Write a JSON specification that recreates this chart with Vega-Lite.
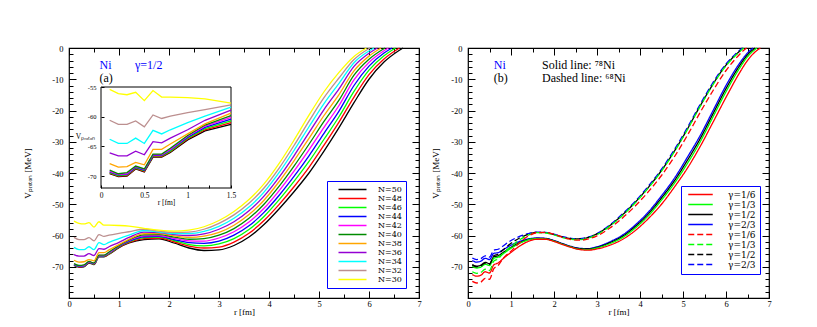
{
"$schema": "https://vega.github.io/schema/vega-lite/v6.json",
"background": "white",
"padding": {"left": 23, "top": 43, "right": 5, "bottom": 5},
"bounds": "flush",
"spacing": 49,
"config": {
 "view": {"stroke": "black", "strokeWidth": 1.2},
 "font": "Liberation Serif",
 "axis": {"domain": false, "grid": false, "labelFont": "Liberation Serif", "titleFont": "Liberation Serif", "labelFontSize": 8.5, "titleFontSize": 9, "titleFontWeight": "normal", "labelColor": "black", "titleColor": "black", "tickColor": "black", "tickWidth": 1, "labelFlush": false, "labelOverlap": false, "labelBound": false},
 "legend": {"labelFont": "DejaVu Serif", "labelColor": "black", "symbolStrokeWidth": 1.5, "rowPadding": -1, "padding": 4, "strokeColor": "#0000ff", "fillColor": "white"}
},
"resolve": {"scale": {"color": "independent", "strokeDash": "independent"}},
"datasets": {
"left": [
{"N":50,"r":0.1,"V":-69.6},{"N":50,"r":0.2,"V":-70.1},{"N":50,"r":0.3,"V":-70.0},{"N":50,"r":0.4,"V":-68.8},{"N":50,"r":0.5,"V":-69.3},{"N":50,"r":0.6,"V":-66.8},{"N":50,"r":0.7,"V":-66.8},{"N":50,"r":0.8,"V":-66.0},{"N":50,"r":1.0,"V":-63.9},{"N":50,"r":1.2,"V":-62.4},{"N":50,"r":1.5,"V":-61.3},{"N":50,"r":1.8,"V":-61.1},{"N":50,"r":2.1,"V":-62.4},{"N":50,"r":2.4,"V":-64.0},{"N":50,"r":2.7,"V":-64.8},{"N":50,"r":3.0,"V":-64.6},{"N":50,"r":3.3,"V":-63.2},{"N":50,"r":3.6,"V":-60.5},{"N":50,"r":3.9,"V":-56.5},{"N":50,"r":4.2,"V":-51.5},{"N":50,"r":4.5,"V":-46.0},{"N":50,"r":4.8,"V":-40.0},{"N":50,"r":5.1,"V":-33.0},{"N":50,"r":5.4,"V":-25.5},{"N":50,"r":5.7,"V":-17.5},{"N":50,"r":6.0,"V":-10.0},{"N":50,"r":6.3,"V":-4.5},{"N":50,"r":6.6,"V":-0.8},{"N":50,"r":6.68,"V":0},
{"N":48,"r":0.1,"V":-69.5},{"N":48,"r":0.2,"V":-70.0},{"N":48,"r":0.3,"V":-69.9},{"N":48,"r":0.4,"V":-68.7},{"N":48,"r":0.5,"V":-69.2},{"N":48,"r":0.6,"V":-66.7},{"N":48,"r":0.7,"V":-66.7},{"N":48,"r":0.8,"V":-65.9},{"N":48,"r":1.0,"V":-63.75},{"N":48,"r":1.2,"V":-62.2},{"N":48,"r":1.5,"V":-61.0},{"N":48,"r":1.8,"V":-60.8},{"N":48,"r":2.1,"V":-62.0},{"N":48,"r":2.4,"V":-63.4},{"N":48,"r":2.7,"V":-64.0},{"N":48,"r":3.0,"V":-63.7},{"N":48,"r":3.3,"V":-62.1},{"N":48,"r":3.6,"V":-59.3},{"N":48,"r":3.9,"V":-55.2},{"N":48,"r":4.2,"V":-50.1},{"N":48,"r":4.5,"V":-44.4},{"N":48,"r":4.8,"V":-38.2},{"N":48,"r":5.1,"V":-31.1},{"N":48,"r":5.4,"V":-23.7},{"N":48,"r":5.7,"V":-15.7},{"N":48,"r":6.0,"V":-8.5},{"N":48,"r":6.3,"V":-3.5},{"N":48,"r":6.61,"V":0},
{"N":46,"r":0.1,"V":-69.4},{"N":46,"r":0.2,"V":-69.9},{"N":46,"r":0.3,"V":-69.8},{"N":46,"r":0.4,"V":-68.6},{"N":46,"r":0.5,"V":-69.1},{"N":46,"r":0.6,"V":-66.6},{"N":46,"r":0.7,"V":-66.6},{"N":46,"r":0.8,"V":-65.8},{"N":46,"r":1.0,"V":-63.6},{"N":46,"r":1.2,"V":-62.0},{"N":46,"r":1.5,"V":-60.7},{"N":46,"r":1.8,"V":-60.5},{"N":46,"r":2.1,"V":-61.6},{"N":46,"r":2.4,"V":-62.9},{"N":46,"r":2.7,"V":-63.3},{"N":46,"r":3.0,"V":-62.7},{"N":46,"r":3.3,"V":-61.0},{"N":46,"r":3.6,"V":-58.1},{"N":46,"r":3.9,"V":-53.9},{"N":46,"r":4.2,"V":-48.6},{"N":46,"r":4.5,"V":-42.7},{"N":46,"r":4.8,"V":-36.3},{"N":46,"r":5.1,"V":-29.2},{"N":46,"r":5.4,"V":-22.0},{"N":46,"r":5.7,"V":-13.9},{"N":46,"r":6.0,"V":-7.1},{"N":46,"r":6.3,"V":-2.5},{"N":46,"r":6.53,"V":0},
{"N":44,"r":0.1,"V":-69.3},{"N":44,"r":0.2,"V":-69.8},{"N":44,"r":0.3,"V":-69.7},{"N":44,"r":0.4,"V":-68.5},{"N":44,"r":0.5,"V":-69.0},{"N":44,"r":0.6,"V":-66.5},{"N":44,"r":0.7,"V":-66.5},{"N":44,"r":0.8,"V":-65.6},{"N":44,"r":1.0,"V":-63.45},{"N":44,"r":1.2,"V":-61.8},{"N":44,"r":1.5,"V":-60.4},{"N":44,"r":1.8,"V":-60.3},{"N":44,"r":2.1,"V":-61.3},{"N":44,"r":2.4,"V":-62.3},{"N":44,"r":2.7,"V":-62.5},{"N":44,"r":3.0,"V":-61.8},{"N":44,"r":3.3,"V":-59.9},{"N":44,"r":3.6,"V":-56.9},{"N":44,"r":3.9,"V":-52.6},{"N":44,"r":4.2,"V":-47.2},{"N":44,"r":4.5,"V":-41.1},{"N":44,"r":4.8,"V":-34.5},{"N":44,"r":5.1,"V":-27.3},{"N":44,"r":5.4,"V":-20.2},{"N":44,"r":5.7,"V":-12.0},{"N":44,"r":6.0,"V":-5.8},{"N":44,"r":6.3,"V":-1.6},{"N":44,"r":6.46,"V":0},
{"N":42,"r":0.1,"V":-69.2},{"N":42,"r":0.2,"V":-69.7},{"N":42,"r":0.3,"V":-69.6},{"N":42,"r":0.4,"V":-68.4},{"N":42,"r":0.5,"V":-68.9},{"N":42,"r":0.6,"V":-66.4},{"N":42,"r":0.7,"V":-66.4},{"N":42,"r":0.8,"V":-65.5},{"N":42,"r":1.0,"V":-63.3},{"N":42,"r":1.2,"V":-61.6},{"N":42,"r":1.5,"V":-60.1},{"N":42,"r":1.8,"V":-60.0},{"N":42,"r":2.1,"V":-60.9},{"N":42,"r":2.4,"V":-61.7},{"N":42,"r":2.7,"V":-61.8},{"N":42,"r":3.0,"V":-60.8},{"N":42,"r":3.3,"V":-58.8},{"N":42,"r":3.6,"V":-55.7},{"N":42,"r":3.9,"V":-51.3},{"N":42,"r":4.2,"V":-45.7},{"N":42,"r":4.5,"V":-39.4},{"N":42,"r":4.8,"V":-32.6},{"N":42,"r":5.1,"V":-25.4},{"N":42,"r":5.4,"V":-18.4},{"N":42,"r":5.7,"V":-10.2},{"N":42,"r":6.0,"V":-4.6},{"N":42,"r":6.3,"V":-0.9},{"N":42,"r":6.39,"V":0},
{"N":40,"r":0.1,"V":-69.0},{"N":40,"r":0.2,"V":-69.6},{"N":40,"r":0.3,"V":-69.4},{"N":40,"r":0.4,"V":-68.3},{"N":40,"r":0.5,"V":-68.8},{"N":40,"r":0.6,"V":-66.3},{"N":40,"r":0.7,"V":-66.3},{"N":40,"r":0.8,"V":-65.3},{"N":40,"r":1.0,"V":-63.15},{"N":40,"r":1.2,"V":-61.4},{"N":40,"r":1.5,"V":-59.8},{"N":40,"r":1.8,"V":-59.7},{"N":40,"r":2.1,"V":-60.5},{"N":40,"r":2.4,"V":-61.2},{"N":40,"r":2.7,"V":-61.0},{"N":40,"r":3.0,"V":-59.9},{"N":40,"r":3.3,"V":-57.8},{"N":40,"r":3.6,"V":-54.5},{"N":40,"r":3.9,"V":-50.0},{"N":40,"r":4.2,"V":-44.3},{"N":40,"r":4.5,"V":-37.8},{"N":40,"r":4.8,"V":-30.8},{"N":40,"r":5.1,"V":-23.5},{"N":40,"r":5.4,"V":-16.7},{"N":40,"r":5.7,"V":-8.7},{"N":40,"r":6.0,"V":-3.6},{"N":40,"r":6.32,"V":0},
{"N":38,"r":0.1,"V":-67.9},{"N":38,"r":0.2,"V":-68.5},{"N":38,"r":0.3,"V":-68.4},{"N":38,"r":0.4,"V":-67.7},{"N":38,"r":0.5,"V":-68.1},{"N":38,"r":0.6,"V":-65.5},{"N":38,"r":0.7,"V":-65.5},{"N":38,"r":0.8,"V":-64.6},{"N":38,"r":1.0,"V":-62.9},{"N":38,"r":1.2,"V":-61.2},{"N":38,"r":1.5,"V":-59.4},{"N":38,"r":1.8,"V":-59.4},{"N":38,"r":2.1,"V":-60.1},{"N":38,"r":2.4,"V":-60.6},{"N":38,"r":2.7,"V":-60.2},{"N":38,"r":3.0,"V":-59.0},{"N":38,"r":3.3,"V":-56.7},{"N":38,"r":3.6,"V":-53.3},{"N":38,"r":3.9,"V":-48.7},{"N":38,"r":4.2,"V":-42.8},{"N":38,"r":4.5,"V":-36.1},{"N":38,"r":4.8,"V":-28.9},{"N":38,"r":5.1,"V":-21.6},{"N":38,"r":5.4,"V":-14.9},{"N":38,"r":5.7,"V":-7.3},{"N":38,"r":6.0,"V":-2.6},{"N":38,"r":6.24,"V":0},
{"N":36,"r":0.1,"V":-66.1},{"N":36,"r":0.2,"V":-66.6},{"N":36,"r":0.3,"V":-66.6},{"N":36,"r":0.4,"V":-65.8},{"N":36,"r":0.5,"V":-66.4},{"N":36,"r":0.6,"V":-64.2},{"N":36,"r":0.7,"V":-64.4},{"N":36,"r":0.8,"V":-63.6},{"N":36,"r":1.0,"V":-62.2},{"N":36,"r":1.2,"V":-60.6},{"N":36,"r":1.5,"V":-58.9},{"N":36,"r":1.8,"V":-59.1},{"N":36,"r":2.1,"V":-59.7},{"N":36,"r":2.4,"V":-60.0},{"N":36,"r":2.7,"V":-59.5},{"N":36,"r":3.0,"V":-58.0},{"N":36,"r":3.3,"V":-55.6},{"N":36,"r":3.6,"V":-52.1},{"N":36,"r":3.9,"V":-47.4},{"N":36,"r":4.2,"V":-41.4},{"N":36,"r":4.5,"V":-34.5},{"N":36,"r":4.8,"V":-27.1},{"N":36,"r":5.1,"V":-19.7},{"N":36,"r":5.4,"V":-13.1},{"N":36,"r":5.7,"V":-5.9},{"N":36,"r":6.0,"V":-1.7},{"N":36,"r":6.17,"V":0},
{"N":34,"r":0.1,"V":-63.8},{"N":34,"r":0.2,"V":-64.5},{"N":34,"r":0.3,"V":-64.5},{"N":34,"r":0.4,"V":-63.6},{"N":34,"r":0.5,"V":-64.5},{"N":34,"r":0.6,"V":-62.3},{"N":34,"r":0.7,"V":-62.9},{"N":34,"r":0.8,"V":-62.2},{"N":34,"r":1.0,"V":-61.0},{"N":34,"r":1.2,"V":-59.9},{"N":34,"r":1.5,"V":-58.4},{"N":34,"r":1.8,"V":-58.9},{"N":34,"r":2.1,"V":-59.4},{"N":34,"r":2.4,"V":-59.4},{"N":34,"r":2.7,"V":-58.7},{"N":34,"r":3.0,"V":-57.1},{"N":34,"r":3.3,"V":-54.5},{"N":34,"r":3.6,"V":-50.9},{"N":34,"r":3.9,"V":-46.1},{"N":34,"r":4.2,"V":-39.9},{"N":34,"r":4.5,"V":-32.8},{"N":34,"r":4.8,"V":-25.2},{"N":34,"r":5.1,"V":-17.8},{"N":34,"r":5.4,"V":-11.3},{"N":34,"r":5.7,"V":-4.7},{"N":34,"r":6.0,"V":-0.95},{"N":34,"r":6.1,"V":0},
{"N":32,"r":0.1,"V":-60.6},{"N":32,"r":0.2,"V":-61.3},{"N":32,"r":0.3,"V":-61.3},{"N":32,"r":0.4,"V":-60.7},{"N":32,"r":0.5,"V":-61.7},{"N":32,"r":0.6,"V":-59.7},{"N":32,"r":0.7,"V":-60.3},{"N":32,"r":0.8,"V":-59.9},{"N":32,"r":1.0,"V":-59.3},{"N":32,"r":1.2,"V":-58.8},{"N":32,"r":1.5,"V":-58.0},{"N":32,"r":1.8,"V":-58.6},{"N":32,"r":2.1,"V":-59.0},{"N":32,"r":2.4,"V":-58.9},{"N":32,"r":2.7,"V":-58.0},{"N":32,"r":3.0,"V":-56.1},{"N":32,"r":3.3,"V":-53.4},{"N":32,"r":3.6,"V":-49.7},{"N":32,"r":3.9,"V":-44.8},{"N":32,"r":4.2,"V":-38.5},{"N":32,"r":4.5,"V":-31.2},{"N":32,"r":4.8,"V":-23.4},{"N":32,"r":5.1,"V":-15.9},{"N":32,"r":5.4,"V":-9.6},{"N":32,"r":5.7,"V":-3.7},{"N":32,"r":6.02,"V":0},
{"N":30,"r":0.1,"V":-55.4},{"N":30,"r":0.2,"V":-56.1},{"N":30,"r":0.3,"V":-56.3},{"N":30,"r":0.4,"V":-55.9},{"N":30,"r":0.5,"V":-57.3},{"N":30,"r":0.6,"V":-55.6},{"N":30,"r":0.7,"V":-56.7},{"N":30,"r":0.8,"V":-56.7},{"N":30,"r":1.0,"V":-56.8},{"N":30,"r":1.2,"V":-57.0},{"N":30,"r":1.5,"V":-57.7},{"N":30,"r":1.8,"V":-58.3},{"N":30,"r":2.1,"V":-58.6},{"N":30,"r":2.4,"V":-58.3},{"N":30,"r":2.7,"V":-57.2},{"N":30,"r":3.0,"V":-55.2},{"N":30,"r":3.3,"V":-52.3},{"N":30,"r":3.6,"V":-48.5},{"N":30,"r":3.9,"V":-43.5},{"N":30,"r":4.2,"V":-37.0},{"N":30,"r":4.5,"V":-29.5},{"N":30,"r":4.8,"V":-21.5},{"N":30,"r":5.1,"V":-14.0},{"N":30,"r":5.4,"V":-7.8},{"N":30,"r":5.7,"V":-2.7},{"N":30,"r":5.95,"V":0}
],
"right": [
{"curve":"78Ni γ=2/3","r":0.1,"V":-68.0},{"curve":"78Ni γ=2/3","r":0.2,"V":-68.5},{"curve":"78Ni γ=2/3","r":0.3,"V":-68.2},{"curve":"78Ni γ=2/3","r":0.4,"V":-67.3},{"curve":"78Ni γ=2/3","r":0.5,"V":-67.7},{"curve":"78Ni γ=2/3","r":0.6,"V":-65.7},{"curve":"78Ni γ=2/3","r":0.7,"V":-65.5},{"curve":"78Ni γ=2/3","r":0.8,"V":-64.7},{"curve":"78Ni γ=2/3","r":1.0,"V":-63.1},{"curve":"78Ni γ=2/3","r":1.2,"V":-61.9},{"curve":"78Ni γ=2/3","r":1.4,"V":-61.1},{"curve":"78Ni γ=2/3","r":1.6,"V":-60.8},{"curve":"78Ni γ=2/3","r":1.8,"V":-60.9},{"curve":"78Ni γ=2/3","r":2.0,"V":-61.6},{"curve":"78Ni γ=2/3","r":2.2,"V":-62.6},{"curve":"78Ni γ=2/3","r":2.4,"V":-63.5},{"curve":"78Ni γ=2/3","r":2.6,"V":-64.1},{"curve":"78Ni γ=2/3","r":2.8,"V":-64.2},{"curve":"78Ni γ=2/3","r":3.0,"V":-63.6},{"curve":"78Ni γ=2/3","r":3.3,"V":-62.0},{"curve":"78Ni γ=2/3","r":3.6,"V":-59.8},{"curve":"78Ni γ=2/3","r":3.9,"V":-56.5},{"curve":"78Ni γ=2/3","r":4.2,"V":-52.4},{"curve":"78Ni γ=2/3","r":4.5,"V":-47.3},{"curve":"78Ni γ=2/3","r":4.8,"V":-41.7},{"curve":"78Ni γ=2/3","r":5.1,"V":-35.0},{"curve":"78Ni γ=2/3","r":5.4,"V":-28.0},{"curve":"78Ni γ=2/3","r":5.7,"V":-20.0},{"curve":"78Ni γ=2/3","r":6.0,"V":-12.0},{"curve":"78Ni γ=2/3","r":6.3,"V":-5.2},{"curve":"78Ni γ=2/3","r":6.5,"V":-1.6},{"curve":"78Ni γ=2/3","r":6.63,"V":0},
{"curve":"78Ni γ=1/2","r":0.1,"V":-69.3},{"curve":"78Ni γ=1/2","r":0.2,"V":-69.8},{"curve":"78Ni γ=1/2","r":0.3,"V":-69.5},{"curve":"78Ni γ=1/2","r":0.4,"V":-68.6},{"curve":"78Ni γ=1/2","r":0.5,"V":-69.0},{"curve":"78Ni γ=1/2","r":0.6,"V":-66.8},{"curve":"78Ni γ=1/2","r":0.7,"V":-66.5},{"curve":"78Ni γ=1/2","r":0.8,"V":-65.6},{"curve":"78Ni γ=1/2","r":1.0,"V":-63.8},{"curve":"78Ni γ=1/2","r":1.2,"V":-62.3},{"curve":"78Ni γ=1/2","r":1.4,"V":-61.3},{"curve":"78Ni γ=1/2","r":1.6,"V":-60.9},{"curve":"78Ni γ=1/2","r":1.8,"V":-61.0},{"curve":"78Ni γ=1/2","r":2.0,"V":-61.7},{"curve":"78Ni γ=1/2","r":2.2,"V":-62.7},{"curve":"78Ni γ=1/2","r":2.4,"V":-63.6},{"curve":"78Ni γ=1/2","r":2.6,"V":-64.2},{"curve":"78Ni γ=1/2","r":2.8,"V":-64.3},{"curve":"78Ni γ=1/2","r":3.0,"V":-63.8},{"curve":"78Ni γ=1/2","r":3.3,"V":-62.3},{"curve":"78Ni γ=1/2","r":3.6,"V":-60.2},{"curve":"78Ni γ=1/2","r":3.9,"V":-57.0},{"curve":"78Ni γ=1/2","r":4.2,"V":-53.0},{"curve":"78Ni γ=1/2","r":4.5,"V":-48.0},{"curve":"78Ni γ=1/2","r":4.8,"V":-42.5},{"curve":"78Ni γ=1/2","r":5.1,"V":-36.0},{"curve":"78Ni γ=1/2","r":5.4,"V":-29.0},{"curve":"78Ni γ=1/2","r":5.7,"V":-21.0},{"curve":"78Ni γ=1/2","r":6.0,"V":-13.0},{"curve":"78Ni γ=1/2","r":6.3,"V":-6.0},{"curve":"78Ni γ=1/2","r":6.5,"V":-2.2},{"curve":"78Ni γ=1/2","r":6.68,"V":0},
{"curve":"78Ni γ=1/3","r":0.1,"V":-69.9},{"curve":"78Ni γ=1/3","r":0.2,"V":-70.4},{"curve":"78Ni γ=1/3","r":0.3,"V":-70.1},{"curve":"78Ni γ=1/3","r":0.4,"V":-69.2},{"curve":"78Ni γ=1/3","r":0.5,"V":-69.6},{"curve":"78Ni γ=1/3","r":0.6,"V":-67.3},{"curve":"78Ni γ=1/3","r":0.7,"V":-66.9},{"curve":"78Ni γ=1/3","r":0.8,"V":-66.0},{"curve":"78Ni γ=1/3","r":1.0,"V":-64.1},{"curve":"78Ni γ=1/3","r":1.2,"V":-62.5},{"curve":"78Ni γ=1/3","r":1.4,"V":-61.4},{"curve":"78Ni γ=1/3","r":1.6,"V":-61.0},{"curve":"78Ni γ=1/3","r":1.8,"V":-61.1},{"curve":"78Ni γ=1/3","r":2.0,"V":-61.8},{"curve":"78Ni γ=1/3","r":2.2,"V":-62.8},{"curve":"78Ni γ=1/3","r":2.4,"V":-63.7},{"curve":"78Ni γ=1/3","r":2.6,"V":-64.4},{"curve":"78Ni γ=1/3","r":2.8,"V":-64.5},{"curve":"78Ni γ=1/3","r":3.0,"V":-64.0},{"curve":"78Ni γ=1/3","r":3.3,"V":-62.6},{"curve":"78Ni γ=1/3","r":3.6,"V":-60.6},{"curve":"78Ni γ=1/3","r":3.9,"V":-57.5},{"curve":"78Ni γ=1/3","r":4.2,"V":-53.6},{"curve":"78Ni γ=1/3","r":4.5,"V":-48.7},{"curve":"78Ni γ=1/3","r":4.8,"V":-43.3},{"curve":"78Ni γ=1/3","r":5.1,"V":-37.0},{"curve":"78Ni γ=1/3","r":5.4,"V":-30.0},{"curve":"78Ni γ=1/3","r":5.7,"V":-22.0},{"curve":"78Ni γ=1/3","r":6.0,"V":-14.0},{"curve":"78Ni γ=1/3","r":6.3,"V":-6.8},{"curve":"78Ni γ=1/3","r":6.5,"V":-2.8},{"curve":"78Ni γ=1/3","r":6.72,"V":0},
{"curve":"78Ni γ=1/6","r":0.1,"V":-72.5},{"curve":"78Ni γ=1/6","r":0.2,"V":-73.0},{"curve":"78Ni γ=1/6","r":0.3,"V":-72.7},{"curve":"78Ni γ=1/6","r":0.4,"V":-71.6},{"curve":"78Ni γ=1/6","r":0.5,"V":-72.0},{"curve":"78Ni γ=1/6","r":0.6,"V":-69.4},{"curve":"78Ni γ=1/6","r":0.7,"V":-68.8},{"curve":"78Ni γ=1/6","r":0.8,"V":-67.6},{"curve":"78Ni γ=1/6","r":1.0,"V":-65.4},{"curve":"78Ni γ=1/6","r":1.2,"V":-63.4},{"curve":"78Ni γ=1/6","r":1.4,"V":-61.9},{"curve":"78Ni γ=1/6","r":1.6,"V":-61.2},{"curve":"78Ni γ=1/6","r":1.8,"V":-61.2},{"curve":"78Ni γ=1/6","r":2.0,"V":-61.9},{"curve":"78Ni γ=1/6","r":2.2,"V":-62.9},{"curve":"78Ni γ=1/6","r":2.4,"V":-63.8},{"curve":"78Ni γ=1/6","r":2.6,"V":-64.5},{"curve":"78Ni γ=1/6","r":2.8,"V":-64.7},{"curve":"78Ni γ=1/6","r":3.0,"V":-64.3},{"curve":"78Ni γ=1/6","r":3.3,"V":-63.1},{"curve":"78Ni γ=1/6","r":3.6,"V":-61.2},{"curve":"78Ni γ=1/6","r":3.9,"V":-58.3},{"curve":"78Ni γ=1/6","r":4.2,"V":-54.5},{"curve":"78Ni γ=1/6","r":4.5,"V":-50.0},{"curve":"78Ni γ=1/6","r":4.8,"V":-44.5},{"curve":"78Ni γ=1/6","r":5.1,"V":-38.5},{"curve":"78Ni γ=1/6","r":5.4,"V":-31.5},{"curve":"78Ni γ=1/6","r":5.7,"V":-23.7},{"curve":"78Ni γ=1/6","r":6.0,"V":-15.8},{"curve":"78Ni γ=1/6","r":6.3,"V":-8.3},{"curve":"78Ni γ=1/6","r":6.5,"V":-4.0},{"curve":"78Ni γ=1/6","r":6.7,"V":-1.0},{"curve":"78Ni γ=1/6","r":6.8,"V":0},
{"curve":"68Ni γ=2/3","r":0.1,"V":-67.2},{"curve":"68Ni γ=2/3","r":0.2,"V":-67.7},{"curve":"68Ni γ=2/3","r":0.3,"V":-67.4},{"curve":"68Ni γ=2/3","r":0.4,"V":-66.5},{"curve":"68Ni γ=2/3","r":0.5,"V":-66.9},{"curve":"68Ni γ=2/3","r":0.6,"V":-64.7},{"curve":"68Ni γ=2/3","r":0.7,"V":-64.4},{"curve":"68Ni γ=2/3","r":0.8,"V":-63.5},{"curve":"68Ni γ=2/3","r":1.0,"V":-61.6},{"curve":"68Ni γ=2/3","r":1.2,"V":-60.3},{"curve":"68Ni γ=2/3","r":1.4,"V":-59.4},{"curve":"68Ni γ=2/3","r":1.6,"V":-58.9},{"curve":"68Ni γ=2/3","r":1.8,"V":-59.0},{"curve":"68Ni γ=2/3","r":2.0,"V":-59.6},{"curve":"68Ni γ=2/3","r":2.2,"V":-60.4},{"curve":"68Ni γ=2/3","r":2.4,"V":-60.9},{"curve":"68Ni γ=2/3","r":2.6,"V":-61.0},{"curve":"68Ni γ=2/3","r":2.8,"V":-60.5},{"curve":"68Ni γ=2/3","r":3.0,"V":-59.4},{"curve":"68Ni γ=2/3","r":3.3,"V":-56.6},{"curve":"68Ni γ=2/3","r":3.6,"V":-53.0},{"curve":"68Ni γ=2/3","r":3.9,"V":-48.9},{"curve":"68Ni γ=2/3","r":4.2,"V":-44.1},{"curve":"68Ni γ=2/3","r":4.5,"V":-38.8},{"curve":"68Ni γ=2/3","r":4.8,"V":-32.5},{"curve":"68Ni γ=2/3","r":5.1,"V":-25.5},{"curve":"68Ni γ=2/3","r":5.4,"V":-18.0},{"curve":"68Ni γ=2/3","r":5.7,"V":-11.0},{"curve":"68Ni γ=2/3","r":6.0,"V":-5.1},{"curve":"68Ni γ=2/3","r":6.2,"V":-2.2},{"curve":"68Ni γ=2/3","r":6.38,"V":0},
{"curve":"68Ni γ=1/2","r":0.1,"V":-69.5},{"curve":"68Ni γ=1/2","r":0.2,"V":-70.0},{"curve":"68Ni γ=1/2","r":0.3,"V":-69.7},{"curve":"68Ni γ=1/2","r":0.4,"V":-68.8},{"curve":"68Ni γ=1/2","r":0.5,"V":-69.2},{"curve":"68Ni γ=1/2","r":0.6,"V":-66.5},{"curve":"68Ni γ=1/2","r":0.7,"V":-66.0},{"curve":"68Ni γ=1/2","r":0.8,"V":-64.8},{"curve":"68Ni γ=1/2","r":1.0,"V":-62.5},{"curve":"68Ni γ=1/2","r":1.2,"V":-60.8},{"curve":"68Ni γ=1/2","r":1.4,"V":-59.6},{"curve":"68Ni γ=1/2","r":1.6,"V":-59.0},{"curve":"68Ni γ=1/2","r":1.8,"V":-59.1},{"curve":"68Ni γ=1/2","r":2.0,"V":-59.7},{"curve":"68Ni γ=1/2","r":2.2,"V":-60.5},{"curve":"68Ni γ=1/2","r":2.4,"V":-61.0},{"curve":"68Ni γ=1/2","r":2.6,"V":-61.1},{"curve":"68Ni γ=1/2","r":2.8,"V":-60.6},{"curve":"68Ni γ=1/2","r":3.0,"V":-59.5},{"curve":"68Ni γ=1/2","r":3.3,"V":-56.8},{"curve":"68Ni γ=1/2","r":3.6,"V":-53.3},{"curve":"68Ni γ=1/2","r":3.9,"V":-49.2},{"curve":"68Ni γ=1/2","r":4.2,"V":-44.5},{"curve":"68Ni γ=1/2","r":4.5,"V":-39.2},{"curve":"68Ni γ=1/2","r":4.8,"V":-33.0},{"curve":"68Ni γ=1/2","r":5.1,"V":-26.0},{"curve":"68Ni γ=1/2","r":5.4,"V":-18.5},{"curve":"68Ni γ=1/2","r":5.7,"V":-11.5},{"curve":"68Ni γ=1/2","r":6.0,"V":-5.5},{"curve":"68Ni γ=1/2","r":6.2,"V":-2.5},{"curve":"68Ni γ=1/2","r":6.4,"V":0},
{"curve":"68Ni γ=1/3","r":0.1,"V":-71.6},{"curve":"68Ni γ=1/3","r":0.2,"V":-72.1},{"curve":"68Ni γ=1/3","r":0.3,"V":-71.8},{"curve":"68Ni γ=1/3","r":0.4,"V":-70.8},{"curve":"68Ni γ=1/3","r":0.5,"V":-71.2},{"curve":"68Ni γ=1/3","r":0.6,"V":-68.2},{"curve":"68Ni γ=1/3","r":0.7,"V":-67.5},{"curve":"68Ni γ=1/3","r":0.8,"V":-66.0},{"curve":"68Ni γ=1/3","r":1.0,"V":-63.5},{"curve":"68Ni γ=1/3","r":1.2,"V":-61.4},{"curve":"68Ni γ=1/3","r":1.4,"V":-59.9},{"curve":"68Ni γ=1/3","r":1.6,"V":-59.1},{"curve":"68Ni γ=1/3","r":1.8,"V":-59.2},{"curve":"68Ni γ=1/3","r":2.0,"V":-59.8},{"curve":"68Ni γ=1/3","r":2.2,"V":-60.7},{"curve":"68Ni γ=1/3","r":2.4,"V":-61.2},{"curve":"68Ni γ=1/3","r":2.6,"V":-61.3},{"curve":"68Ni γ=1/3","r":2.8,"V":-60.8},{"curve":"68Ni γ=1/3","r":3.0,"V":-59.7},{"curve":"68Ni γ=1/3","r":3.3,"V":-57.0},{"curve":"68Ni γ=1/3","r":3.6,"V":-53.5},{"curve":"68Ni γ=1/3","r":3.9,"V":-49.4},{"curve":"68Ni γ=1/3","r":4.2,"V":-44.7},{"curve":"68Ni γ=1/3","r":4.5,"V":-39.4},{"curve":"68Ni γ=1/3","r":4.8,"V":-33.2},{"curve":"68Ni γ=1/3","r":5.1,"V":-26.2},{"curve":"68Ni γ=1/3","r":5.4,"V":-18.7},{"curve":"68Ni γ=1/3","r":5.7,"V":-11.7},{"curve":"68Ni γ=1/3","r":6.0,"V":-5.7},{"curve":"68Ni γ=1/3","r":6.2,"V":-2.7},{"curve":"68Ni γ=1/3","r":6.41,"V":0},
{"curve":"68Ni γ=1/6","r":0.1,"V":-74.7},{"curve":"68Ni γ=1/6","r":0.2,"V":-75.2},{"curve":"68Ni γ=1/6","r":0.3,"V":-74.9},{"curve":"68Ni γ=1/6","r":0.4,"V":-73.7},{"curve":"68Ni γ=1/6","r":0.5,"V":-74.0},{"curve":"68Ni γ=1/6","r":0.6,"V":-70.6},{"curve":"68Ni γ=1/6","r":0.7,"V":-69.6},{"curve":"68Ni γ=1/6","r":0.8,"V":-67.6},{"curve":"68Ni γ=1/6","r":1.0,"V":-65.0},{"curve":"68Ni γ=1/6","r":1.2,"V":-62.3},{"curve":"68Ni γ=1/6","r":1.4,"V":-60.2},{"curve":"68Ni γ=1/6","r":1.6,"V":-59.1},{"curve":"68Ni γ=1/6","r":1.8,"V":-59.0},{"curve":"68Ni γ=1/6","r":2.0,"V":-59.6},{"curve":"68Ni γ=1/6","r":2.2,"V":-60.6},{"curve":"68Ni γ=1/6","r":2.4,"V":-61.3},{"curve":"68Ni γ=1/6","r":2.6,"V":-61.5},{"curve":"68Ni γ=1/6","r":2.8,"V":-61.1},{"curve":"68Ni γ=1/6","r":3.0,"V":-60.1},{"curve":"68Ni γ=1/6","r":3.3,"V":-57.6},{"curve":"68Ni γ=1/6","r":3.6,"V":-54.3},{"curve":"68Ni γ=1/6","r":3.9,"V":-50.4},{"curve":"68Ni γ=1/6","r":4.2,"V":-45.9},{"curve":"68Ni γ=1/6","r":4.5,"V":-40.8},{"curve":"68Ni γ=1/6","r":4.8,"V":-34.8},{"curve":"68Ni γ=1/6","r":5.1,"V":-28.0},{"curve":"68Ni γ=1/6","r":5.4,"V":-20.6},{"curve":"68Ni γ=1/6","r":5.7,"V":-13.6},{"curve":"68Ni γ=1/6","r":6.0,"V":-7.2},{"curve":"68Ni γ=1/6","r":6.2,"V":-3.8},{"curve":"68Ni γ=1/6","r":6.4,"V":-0.9},{"curve":"68Ni γ=1/6","r":6.48,"V":0}
]
},
"hconcat": [
{
 "width": 350, "height": 250,
 "resolve": {"scale": {"x": "independent", "y": "independent"}},
 "layer": [
  {
   "data": {"name": "left"},
   "mark": {"type": "line", "strokeWidth": 1.3, "interpolate": "monotone"},
   "encoding": {
    "x": {"field": "r", "type": "quantitative", "scale": {"domain": [0, 7], "nice": false, "zero": false},
          "axis": {"orient": "bottom", "values": [0,1,2,3,4,5,6,7], "tickSize": -7, "labelPadding": 8, "title": "r [fm]", "titlePadding": 0}},
    "y": {"field": "V", "type": "quantitative", "scale": {"domain": [-80, 0], "nice": false, "zero": false},
          "axis": {"orient": "left", "values": [-80,-70,-60,-50,-40,-30,-20,-10,0], "labelExpr": "datum.value == -80 ? '' : '' + datum.value", "tickSize": -7, "labelPadding": 13, "title": "Vₚᵣₒₜₒₙ [MeV]", "titlePadding": 19}},
    "color": {"field": "N", "type": "nominal",
              "scale": {"domain": [50,48,46,44,42,40,38,36,34,32,30], "range": ["#000000","#ff0000","#00ff00","#0000ff","#ff00ff","#008b00","#ffa500","#9400d3","#00ffff","#bc8f8f","#ffff00"]},
              "legend": {"title": null, "orient": "none", "legendX": 258, "legendY": 133, "symbolType": "M-4,0H4", "symbolSize": 49, "symbolOffset": 17, "labelOffset": 21, "labelFontSize": 8, "rowPadding": -1.8, "labelExpr": "'N=' + datum.label"}}
   }
  },
  {
   "data": {"values": [{}]},
   "mark": {"type": "point", "opacity": 0},
   "encoding": {
    "x": {"datum": 0, "type": "quantitative", "scale": {"domain": [0, 7], "nice": false, "zero": false}, "axis": {"orient": "top", "values": [0,1,2,3,4,5,6,7], "tickSize": -7, "labels": false, "title": null}},
    "y": {"datum": -80, "type": "quantitative", "scale": {"domain": [-80, 0], "nice": false, "zero": false}, "axis": {"orient": "right", "values": [-80,-70,-60,-50,-40,-30,-20,-10,0], "tickSize": -7, "labels": false, "title": null}}
   }
  },
  {
   "data": {"values": [{}]},
   "mark": {"type": "point", "opacity": 0},
   "encoding": {
    "x": {"datum": 0, "type": "quantitative", "scale": {"domain": [0, 7], "nice": false, "zero": false}, "axis": {"orient": "bottom", "values": [0.5,1.5,2.5,3.5,4.5,5.5,6.5], "tickSize": -4, "labels": false, "title": null}},
    "y": {"datum": -80, "type": "quantitative", "scale": {"domain": [-80, 0], "nice": false, "zero": false}, "axis": {"orient": "left", "values": [-78,-76,-74,-72,-68,-66,-64,-62,-58,-56,-54,-52,-48,-46,-44,-42,-38,-36,-34,-32,-28,-26,-24,-22,-18,-16,-14,-12,-8,-6,-4,-2], "tickSize": -4, "labels": false, "title": null}}
   }
  },
  {
   "data": {"values": [{}]},
   "mark": {"type": "point", "opacity": 0},
   "encoding": {
    "x": {"datum": 0, "type": "quantitative", "scale": {"domain": [0, 7], "nice": false, "zero": false}, "axis": {"orient": "top", "values": [0.5,1.5,2.5,3.5,4.5,5.5,6.5], "tickSize": -4, "labels": false, "title": null}},
    "y": {"datum": -80, "type": "quantitative", "scale": {"domain": [-80, 0], "nice": false, "zero": false}, "axis": {"orient": "right", "values": [-78,-76,-74,-72,-68,-66,-64,-62,-58,-56,-54,-52,-48,-46,-44,-42,-38,-36,-34,-32,-28,-26,-24,-22,-18,-16,-14,-12,-8,-6,-4,-2], "tickSize": -4, "labels": false, "title": null}}
   }
  },
  {
   "data": {"values": [{}]},
   "mark": {"type": "text", "text": "Ni", "align": "left", "baseline": "middle", "font": "Liberation Serif", "fontSize": 12, "color": "#0000ff"},
   "encoding": {
    "x": {"datum": 0.61, "type": "quantitative", "scale": {"domain": [0, 7], "nice": false, "zero": false}, "axis": null},
    "y": {"datum": -5.4, "type": "quantitative", "scale": {"domain": [-80, 0], "nice": false, "zero": false}, "axis": null}
   }
  },
  {
   "data": {"values": [{}]},
   "mark": {"type": "text", "text": "γ=1/2", "align": "left", "baseline": "middle", "font": "Liberation Serif", "fontSize": 12, "color": "#0000ff"},
   "encoding": {
    "x": {"datum": 1.32, "type": "quantitative", "scale": {"domain": [0, 7], "nice": false, "zero": false}, "axis": null},
    "y": {"datum": -5.4, "type": "quantitative", "scale": {"domain": [-80, 0], "nice": false, "zero": false}, "axis": null}
   }
  },
  {
   "data": {"values": [{}]},
   "mark": {"type": "text", "text": "(a)", "align": "left", "baseline": "middle", "font": "Liberation Serif", "fontSize": 12, "color": "black"},
   "encoding": {
    "x": {"datum": 0.61, "type": "quantitative", "scale": {"domain": [0, 7], "nice": false, "zero": false}, "axis": null},
    "y": {"datum": -9.7, "type": "quantitative", "scale": {"domain": [-80, 0], "nice": false, "zero": false}, "axis": null}
   }
  },
  {
   "data": {"values": [{}]},
   "mark": {"type": "rect", "fill": "white", "stroke": "black", "strokeWidth": 1},
   "encoding": {
    "x": {"datum": 0, "type": "quantitative", "scale": {"domain": [0, 1.5], "range": [32, 162], "nice": false, "zero": false},
          "axis": {"orient": "bottom", "offset": -110, "zindex": 1, "values": [0,0.25,0.5,0.75,1,1.25,1.5], "labelExpr": "datum.value % 0.5 == 0 ? '' + datum.value : ''", "tickSize": -3, "labelPadding": 6, "labelFontSize": 7.5, "title": "r [fm]", "titleFontSize": 7.5, "titlePadding": 0}},
    "x2": {"datum": 1.5},
    "y": {"datum": -72, "type": "quantitative", "scale": {"domain": [-72, -55], "range": [140, 39], "nice": false, "zero": false},
          "axis": {"orient": "left", "offset": -32, "zindex": 1, "values": [-70,-65,-60,-55], "labelExpr": "'' + datum.value", "tickSize": -3, "labelPadding": 8, "labelFontSize": 6.5, "title": "Vₚᵣₒₜₒₙ", "titleFontSize": 7.5, "titleAngle": 0, "titleX": -16, "titleY": 88, "titleAlign": "center", "titleBaseline": "middle"}},
    "y2": {"datum": -55}
   }
  },
  {
   "data": {"name": "left"},
   "transform": [{"filter": "datum.r <= 1.5"}],
   "mark": {"type": "line", "strokeWidth": 1.3},
   "encoding": {
    "x": {"field": "r", "type": "quantitative", "scale": {"domain": [0, 1.5], "range": [32, 162], "nice": false, "zero": false}, "axis": null},
    "y": {"field": "V", "type": "quantitative", "scale": {"domain": [-72, -55], "range": [140, 39], "nice": false, "zero": false}, "axis": null},
    "color": {"field": "N", "type": "nominal"}
   }
  }
 ]
},
{
 "width": 301, "height": 250,
 "resolve": {"scale": {"x": "independent", "y": "independent"}},
 "layer": [
  {
   "data": {"name": "right"},
   "mark": {"type": "line", "strokeWidth": 1.3, "interpolate": "monotone"},
   "encoding": {
    "x": {"field": "r", "type": "quantitative", "scale": {"domain": [0, 7], "nice": false, "zero": false},
          "axis": {"orient": "bottom", "values": [0,1,2,3,4,5,6,7], "tickSize": -7, "labelPadding": 8, "title": "r [fm]", "titlePadding": 0}},
    "y": {"field": "V", "type": "quantitative", "scale": {"domain": [-80, 0], "nice": false, "zero": false},
          "axis": {"orient": "left", "values": [-80,-70,-60,-50,-40,-30,-20,-10,0], "labelExpr": "datum.value == -80 ? '' : '' + datum.value", "tickSize": -7, "labelPadding": 13, "title": "Vₚᵣₒₜₒₙ [MeV]", "titlePadding": 10}},
    "color": {"field": "curve", "type": "nominal",
              "scale": {"domain": ["78Ni γ=1/6","78Ni γ=1/3","78Ni γ=1/2","78Ni γ=2/3","68Ni γ=1/6","68Ni γ=1/3","68Ni γ=1/2","68Ni γ=2/3"], "range": ["#ff0000","#00ff00","#000000","#0000ff","#ff0000","#00ff00","#000000","#0000ff"]},
              "legend": {"title": null, "orient": "none", "legendX": 213, "legendY": 138, "symbolType": "M-3.5,0H3.5", "symbolSize": 49, "symbolOffset": 11, "labelOffset": 23, "labelFontSize": 9, "rowPadding": -1.3, "labelExpr": "split(datum.label, ' ')[1]"}},
    "strokeDash": {"field": "curve", "type": "nominal",
              "scale": {"domain": ["78Ni γ=1/6","78Ni γ=1/3","78Ni γ=1/2","78Ni γ=2/3","68Ni γ=1/6","68Ni γ=1/3","68Ni γ=1/2","68Ni γ=2/3"], "range": [[1,0],[1,0],[1,0],[1,0],[6,3],[6,3],[6,3],[6,3]]},
              "legend": {"title": null, "orient": "none", "legendX": 213, "legendY": 138, "symbolType": "M-3.5,0H3.5", "symbolSize": 49, "symbolOffset": 11, "labelOffset": 23, "labelFontSize": 9, "rowPadding": -1.3, "labelExpr": "split(datum.label, ' ')[1]"}}
   }
  },
  {
   "data": {"values": [{}]},
   "mark": {"type": "point", "opacity": 0},
   "encoding": {
    "x": {"datum": 0, "type": "quantitative", "scale": {"domain": [0, 7], "nice": false, "zero": false}, "axis": {"orient": "top", "values": [0,1,2,3,4,5,6,7], "tickSize": -7, "labels": false, "title": null}},
    "y": {"datum": -80, "type": "quantitative", "scale": {"domain": [-80, 0], "nice": false, "zero": false}, "axis": {"orient": "right", "values": [-80,-70,-60,-50,-40,-30,-20,-10,0], "tickSize": -7, "labels": false, "title": null}}
   }
  },
  {
   "data": {"values": [{}]},
   "mark": {"type": "point", "opacity": 0},
   "encoding": {
    "x": {"datum": 0, "type": "quantitative", "scale": {"domain": [0, 7], "nice": false, "zero": false}, "axis": {"orient": "bottom", "values": [0.5,1.5,2.5,3.5,4.5,5.5,6.5], "tickSize": -4, "labels": false, "title": null}},
    "y": {"datum": -80, "type": "quantitative", "scale": {"domain": [-80, 0], "nice": false, "zero": false}, "axis": {"orient": "left", "values": [-78,-76,-74,-72,-68,-66,-64,-62,-58,-56,-54,-52,-48,-46,-44,-42,-38,-36,-34,-32,-28,-26,-24,-22,-18,-16,-14,-12,-8,-6,-4,-2], "tickSize": -4, "labels": false, "title": null}}
   }
  },
  {
   "data": {"values": [{}]},
   "mark": {"type": "point", "opacity": 0},
   "encoding": {
    "x": {"datum": 0, "type": "quantitative", "scale": {"domain": [0, 7], "nice": false, "zero": false}, "axis": {"orient": "top", "values": [0.5,1.5,2.5,3.5,4.5,5.5,6.5], "tickSize": -4, "labels": false, "title": null}},
    "y": {"datum": -80, "type": "quantitative", "scale": {"domain": [-80, 0], "nice": false, "zero": false}, "axis": {"orient": "right", "values": [-78,-76,-74,-72,-68,-66,-64,-62,-58,-56,-54,-52,-48,-46,-44,-42,-38,-36,-34,-32,-28,-26,-24,-22,-18,-16,-14,-12,-8,-6,-4,-2], "tickSize": -4, "labels": false, "title": null}}
   }
  },
  {
   "data": {"values": [{}]},
   "mark": {"type": "text", "text": "Ni", "align": "left", "baseline": "middle", "font": "Liberation Serif", "fontSize": 12, "color": "#0000ff"},
   "encoding": {
    "x": {"datum": 0.6, "type": "quantitative", "scale": {"domain": [0, 7], "nice": false, "zero": false}, "axis": null},
    "y": {"datum": -5.4, "type": "quantitative", "scale": {"domain": [-80, 0], "nice": false, "zero": false}, "axis": null}
   }
  },
  {
   "data": {"values": [{}]},
   "mark": {"type": "text", "text": "(b)", "align": "left", "baseline": "middle", "font": "Liberation Serif", "fontSize": 12, "color": "black"},
   "encoding": {
    "x": {"datum": 0.6, "type": "quantitative", "scale": {"domain": [0, 7], "nice": false, "zero": false}, "axis": null},
    "y": {"datum": -9.5, "type": "quantitative", "scale": {"domain": [-80, 0], "nice": false, "zero": false}, "axis": null}
   }
  },
  {
   "data": {"values": [{}]},
   "mark": {"type": "text", "text": "Solid line: ⁷⁸Ni", "align": "left", "baseline": "middle", "font": "Liberation Serif", "fontSize": 12, "color": "black"},
   "encoding": {
    "x": {"datum": 1.72, "type": "quantitative", "scale": {"domain": [0, 7], "nice": false, "zero": false}, "axis": null},
    "y": {"datum": -5.4, "type": "quantitative", "scale": {"domain": [-80, 0], "nice": false, "zero": false}, "axis": null}
   }
  },
  {
   "data": {"values": [{}]},
   "mark": {"type": "text", "text": "Dashed line: ⁶⁸Ni", "align": "left", "baseline": "middle", "font": "Liberation Serif", "fontSize": 12, "color": "black"},
   "encoding": {
    "x": {"datum": 1.72, "type": "quantitative", "scale": {"domain": [0, 7], "nice": false, "zero": false}, "axis": null},
    "y": {"datum": -9.5, "type": "quantitative", "scale": {"domain": [-80, 0], "nice": false, "zero": false}, "axis": null}
   }
  }
 ]
}
]
}
